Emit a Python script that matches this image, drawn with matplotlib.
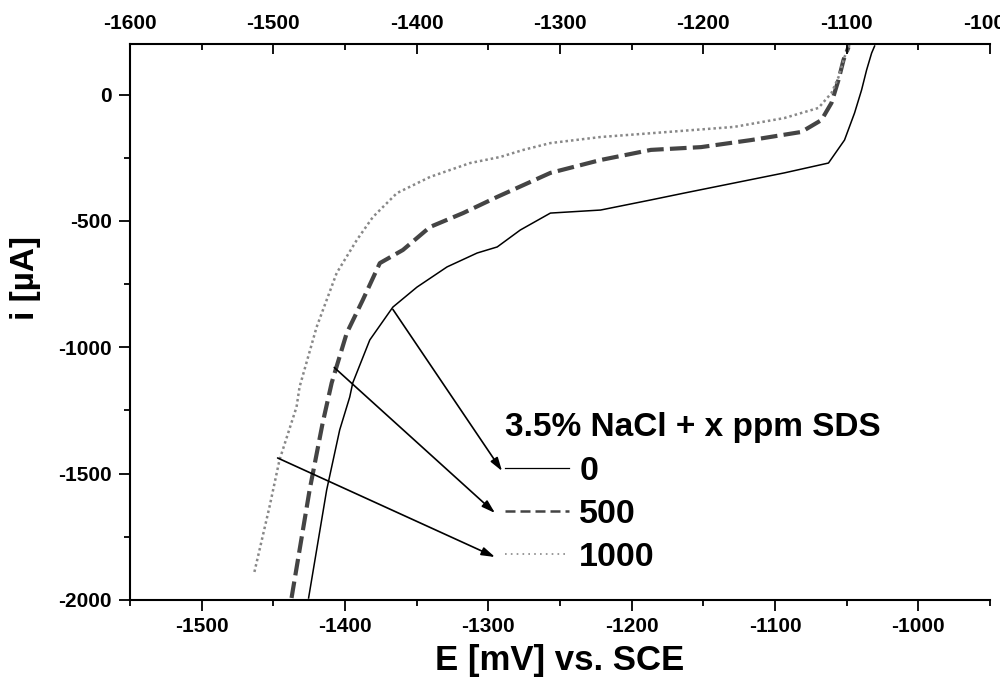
import matplotlib
matplotlib.use('Agg')
import matplotlib.pyplot as plt
from matplotlib.lines import Line2D
from matplotlib.ticker import MultipleLocator

plt.rcParams['font.family'] = ['Liberation Sans', 'DejaVu Sans']
plt.rcParams['font.weight'] = 'bold'
plt.rcParams['axes.unicode_minus'] = False

# 3.5% NaCl + 0 ppm SDS
e_0 = [-1425.4, -1412.8, -1403.7, -1396.7, -1394.6, -1382.7, -1366.6, -1349.8,
       -1328.8, -1307.8, -1293.8, -1277.7, -1256.7, -1221.7, -1186.6, -1163.5,
       -1128.5, -1093.5, -1062.7, -1051.5, -1044.5, -1039.6, -1036.1, -1032.6, -1030.5]
i_0 = [-1992, -1565, -1327, -1197, -1141, -971, -841, -762,
       -682, -627, -603, -536, -469, -457, -417, -390,
       -350, -310, -271, -180, -73, 18, 97, 164, 192]

# 500 ppm SDS
e_500 = [-1437.3, -1424.7, -1415.6, -1409.3, -1398.8, -1387.6, -1375.7, -1359.6,
         -1340.7, -1317.6, -1293.8, -1256.7, -1221.7, -1186.6, -1151.6, -1116.6,
         -1081.6, -1067.6, -1060.6, -1055.7, -1052.2, -1048.7]
i_500 = [-1992, -1565, -1300, -1141, -944, -813, -667, -615,
         -524, -469, -405, -310, -259, -219, -208, -180,
         -148, -101, -33, 58, 137, 188]

# 1000 ppm SDS
e_1000 = [-1463.2, -1452.7, -1445.7, -1433.8, -1431.7, -1419.8, -1405.8, -1391.8,
          -1380.6, -1363.8, -1340.7, -1312.7, -1291.7, -1275.6, -1256.7, -1221.7,
          -1174.7, -1128.5, -1093.5, -1069.7, -1060.6, -1055.7, -1051.5, -1048.0]
i_1000 = [-1889, -1632, -1446, -1236, -1157, -920, -706, -576,
          -485, -390, -326, -271, -247, -219, -192, -168,
          -148, -128, -93, -53, 6, 69, 149, 196]

labels = ['0', '500', '1000']
arrow_from = [(-1366.6, -850), (-1407.5, -1080), (-1447.0, -1438)]

fig = plt.figure(figsize=(10, 6.93), dpi=100)
ax = fig.add_axes([0.13, 0.1342, 0.86, 0.8023])

ax.plot(e_0, i_0, color='black', lw=1.1)
ax.plot(e_500, i_500, color='#444444', lw=3, dashes=(4, 1.5))
ax.plot(e_1000, i_1000, color='#888888', lw=1.8, dashes=(1, 1.2))

ax.set_xlim(-1550, -950)
ax.set_ylim(-2000, 200)
ax.xaxis.set_major_locator(MultipleLocator(100))
ax.xaxis.set_minor_locator(MultipleLocator(50))
ax.yaxis.set_major_locator(MultipleLocator(500))
ax.yaxis.set_minor_locator(MultipleLocator(250))
ax.tick_params(which='major', length=8, width=1.3, labelsize=15, pad=4)
ax.tick_params(which='minor', length=4.5, width=1.3)
ax.tick_params(axis='y', pad=5)
for s in ['top', 'right']:
    ax.spines[s].set_visible(False)
for s in ['left', 'bottom']:
    ax.spines[s].set_linewidth(1.5)

ax.set_xlabel('E [mV] vs. SCE', fontsize=25, fontweight='bold', labelpad=6)
ax.set_ylabel('i [µA]', fontsize=24, fontweight='bold')
ax.yaxis.set_label_coords(-0.104, 0.58)

ax2 = ax.twiny()
ax2.set_xlim(-1600, -1000)
ax2.xaxis.set_major_locator(MultipleLocator(100))
ax2.xaxis.set_minor_locator(MultipleLocator(50))
ax2.tick_params(which='major', direction='in', length=7.5, width=1.3, labelsize=15, pad=8)
ax2.tick_params(which='minor', direction='in', length=4.5, width=1.3)
for s in ['left', 'right', 'bottom']:
    ax2.spines[s].set_visible(False)
ax2.spines['top'].set_linewidth(1.5)

handles = [Line2D([], [], color='black', lw=0.9),
           Line2D([], [], color='#444444', lw=1.8, dashes=(4, 2)),
           Line2D([], [], color='#888888', lw=1.2, dashes=(1, 2.5))]
leg = ax.legend(handles, labels, title='3.5% NaCl + x ppm SDS', loc='upper left',
                bbox_to_anchor=(0.4313, 0.345), frameon=False, fontsize=24.5,
                title_fontproperties={'size': 24, 'weight': 'bold'},
                handlelength=1.88, handletextpad=0.3, labelspacing=0.36,
                borderpad=0.12, borderaxespad=0, alignment='left')
for t in leg.get_texts():
    t.set_fontweight('bold')

ends = [(0.4326, 0.232), (0.4244, 0.1565), (0.4244, 0.0773)]
for start, end in zip(arrow_from, ends):
    ax.annotate('', xy=end, xycoords='axes fraction', xytext=start, textcoords='data',
                arrowprops=dict(arrowstyle='-|>,head_length=0.8,head_width=0.25',
                                color='black', lw=1.2, shrinkA=0, shrinkB=0))

fig.savefig('out.png', dpi=100)
